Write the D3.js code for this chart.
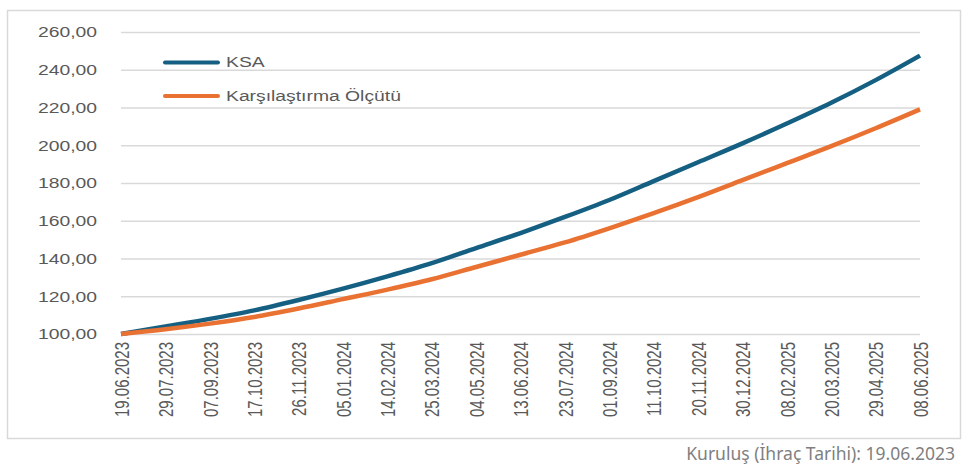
<!DOCTYPE html>
<html>
<head>
  <meta charset="utf-8"/>
  <style>
    body { margin: 0; background: #ffffff; }
    svg { display: block; }
    .axis text { fill: #595959; font-family: "Liberation Sans", Arial, sans-serif; }
  </style>
</head>
<body>
  <div id="chart"></div>
  <script src="https://d3js.org/d3.v7.min.js"></script>
  <script>
    // values, one per labelled date
    let dates = ['19.06.2023', '29.07.2023', '07.09.2023', '17.10.2023', '26.11.2023',
                 '05.01.2024', '14.02.2024', '25.03.2024', '04.05.2024', '13.06.2024',
                 '23.07.2024', '01.09.2024', '11.10.2024', '20.11.2024', '30.12.2024',
                 '08.02.2025', '20.03.2025', '29.04.2025', '08.06.2025'];
    let ksa = [100, 104, 108, 112.5, 118, 124, 130.5, 137.5, 145.5, 153.5,
               162, 171, 181, 191, 201, 211.5, 222.5, 234.5, 247.5];
    let benchmark = [100, 102.5, 105.5, 109, 113.5, 118.5, 123.5, 129, 135.5, 142,
                     148.5, 156, 164, 172.5, 181.5, 190.5, 199.5, 209, 219];
    let seriesNames = ['KSA', 'Karşılaştırma Ölçütü'];
    let yTicks = [100, 120, 140, 160, 180, 200, 220, 240, 260];
    let footnote = 'Kuruluş (İhraç Tarihi): 19.06.2023';

    let width = 966,
        height = 471,
        plot = {'left': 121, 'right': 920, 'top': 32, 'bottom': 334},
        stretch = 1.38;

    let colors = ['#156082', '#E97132'];

    let parse = d3.timeParse('%d.%m.%Y');
    let days = dates.map(parse);

    let svg = d3.select('#chart')
        .append('svg')
        .attr('width', width)
        .attr('height', height);

    svg.append('rect')
        .attr('x', 7.5).attr('y', 10.5)
        .attr('width', 953).attr('height', 428)
        .attr('fill', '#ffffff')
        .attr('stroke', '#d9d9d9')
        .attr('stroke-width', 1.5);

    let x = d3.scaleTime()
        .domain(d3.extent(days))
        .range([plot.left, plot.right]);

    let y = d3.scaleLinear()
        .domain([100, 260])
        .range([plot.bottom, plot.top]);

    let locale = d3.formatLocale({'decimal': ',', 'thousands': '.', 'grouping': [3], 'currency': ['', '']});
    let fmt = locale.format('.2f');

    // y axis + gridlines
    let yAxis = svg.append('g')
        .attr('class', 'axis')
        .attr('transform', 'translate(' + plot.left + ',0)')
        .call(d3.axisLeft(y)
            .tickValues(yTicks)
            .tickSize(-(plot.right - plot.left))
            .tickPadding(0)
            .tickFormat(fmt));
    yAxis.select('.domain').remove();
    yAxis.selectAll('line')
        .attr('stroke', '#d9d9d9')
        .attr('stroke-width', 1.5);
    yAxis.selectAll('text')
        .attr('x', -17.4)
        .attr('dy', '0.35em')
        .attr('transform', 'scale(' + stretch + ',1)')
        .style('font-size', '14px');

    // x axis labels, rotated
    let xAxis = svg.append('g')
        .attr('class', 'axis')
        .attr('transform', 'translate(0,' + plot.bottom + ')')
        .call(d3.axisBottom(x)
            .tickValues(days)
            .tickSize(0)
            .tickFormat(d3.timeFormat('%d.%m.%Y')));
    xAxis.select('.domain').remove();
    xAxis.selectAll('text')
        .attr('x', 0)
        .attr('y', 0)
        .attr('dy', '0.35em')
        .attr('text-anchor', 'end')
        .attr('transform', 'translate(0,8) scale(' + stretch + ',1) rotate(-90)')
        .style('font-size', '15px');

    // lines
    let series = [ksa, benchmark];
    let line = d3.line()
        .x(function (d, i) { return x(days[i]); })
        .y(function (d) { return y(d); })
        .curve(d3.curveMonotoneX);

    svg.selectAll('.series')
        .data(series)
        .enter()
        .append('path')
        .attr('class', 'series')
        .attr('fill', 'none')
        .attr('stroke', function (d, i) { return colors[i]; })
        .attr('stroke-width', 4.5)
        .attr('stroke-linejoin', 'round')
        .attr('d', line);

    // legend
    let legend = svg.selectAll('.legend')
        .data(seriesNames)
        .enter()
        .append('g')
        .attr('class', 'legend')
        .attr('transform', function (d, i) { return 'translate(165,' + (62.5 + i * 33.5) + ')'; });

    legend.append('line')
        .attr('x1', 0).attr('x2', 53)
        .attr('stroke', function (d, i) { return colors[i]; })
        .attr('stroke-width', 4)
        .attr('stroke-linecap', 'round');

    legend.append('text')
        .attr('x', 61 / stretch)
        .attr('dy', '0.35em')
        .attr('transform', 'scale(' + stretch + ',1)')
        .attr('fill', '#595959')
        .style('font-family', '"Liberation Sans", Arial, sans-serif')
        .style('font-size', '14px')
        .text(function (d) { return d; });

    svg.append('text')
        .attr('x', 955)
        .attr('y', 460)
        .attr('text-anchor', 'end')
        .attr('fill', '#7f7f7f')
        .style('font-family', '"Noto Sans", sans-serif')
        .style('font-size', '17.5px')
        .text(footnote);
  </script>
</body>
</html>
